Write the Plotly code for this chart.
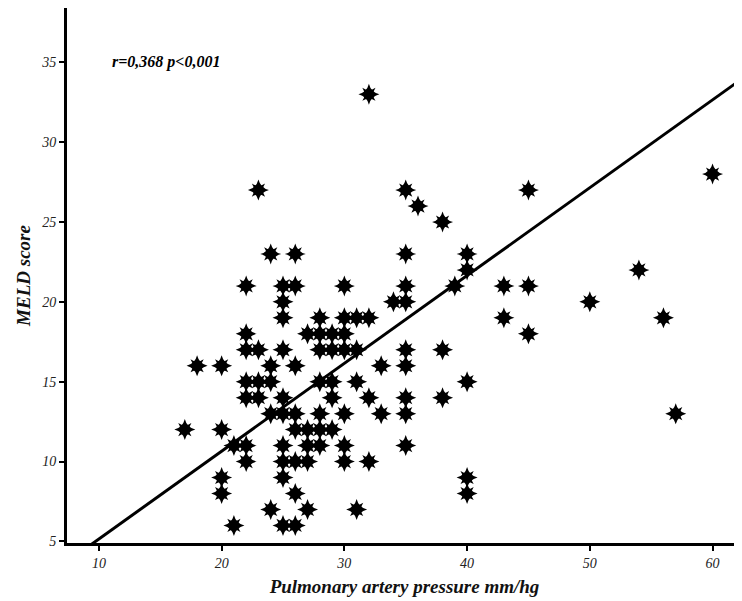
import plotly.graph_objects as go
import numpy as np

# Pulmonary artery pressure (mm/hg) and MELD score, read row by row
pap = [32,
       60,
       23, 35, 45,
       36,
       38,
       24, 26, 35, 40,
       40, 54,
       22, 25, 26, 30, 35, 39, 43, 45,
       25, 34, 35, 50,
       25, 28, 30, 31, 32, 43, 56,
       22, 27, 28, 29, 30, 45,
       22, 23, 25, 28, 29, 30, 31, 35, 38,
       18, 20, 24, 26, 33, 35,
       22, 23, 24, 28, 29, 31, 40,
       22, 23, 25, 29, 32, 35, 38,
       24, 25, 26, 28, 30, 33, 35, 57,
       17, 20, 26, 27, 28, 29,
       21, 22, 25, 27, 28, 30, 35,
       22, 25, 26, 27, 30, 32,
       20, 25, 40,
       20, 26, 40,
       24, 27, 31,
       21, 25, 26]
meld = [33,
        28,
        27, 27, 27,
        26,
        25,
        23, 23, 23, 23,
        22, 22,
        21, 21, 21, 21, 21, 21, 21, 21,
        20, 20, 20, 20,
        19, 19, 19, 19, 19, 19, 19,
        18, 18, 18, 18, 18, 18,
        17, 17, 17, 17, 17, 17, 17, 17, 17,
        16, 16, 16, 16, 16, 16,
        15, 15, 15, 15, 15, 15, 15,
        14, 14, 14, 14, 14, 14, 14,
        13, 13, 13, 13, 13, 13, 13, 13,
        12, 12, 12, 12, 12, 12,
        11, 11, 11, 11, 11, 11, 11,
        10, 10, 10, 10, 10, 10,
        9, 9, 9,
        8, 8, 8,
        7, 7, 7,
        6, 6, 6]

# Fitted line as drawn in the figure
fit_slope = 0.55
fit_intercept = -0.35

x_ticks = [10, 20, 30, 40, 50, 60]
y_ticks = [5, 10, 15, 20, 25, 30, 35]
x_range = [7.4, 62.4]
y_range = [4.9, 38.4]

serif = "Liberation Serif, Times New Roman, serif"

fig = go.Figure()

lx = np.array(x_range)
ly = fit_slope * lx + fit_intercept
fig.add_trace(go.Scatter(x=lx, y=ly, mode="lines",
                         line=dict(color="black", width=3),
                         hoverinfo="skip", showlegend=False))

for sym, sz in [("star-diamond", 15), ("star-square", 12), ("circle", 6)]:
    fig.add_trace(go.Scatter(x=pap, y=meld, mode="markers",
                             marker=dict(symbol=sym, size=sz, color="black",
                                         line=dict(width=0)),
                             showlegend=False))

fig.add_annotation(x=0.064, y=35, xref="paper", yref="y",
                   text="r=0,368 p<0,001", showarrow=False,
                   xanchor="left", yanchor="middle",
                   font=dict(family=serif, size=16, color="black",
                             weight="bold", style="italic"))

fig.update_layout(
    width=734, height=593,
    margin=dict(l=59, r=0, t=0, b=58, autoexpand=False),
    paper_bgcolor="white", plot_bgcolor="white",
    xaxis=dict(range=x_range, tickvals=x_ticks, ticks="outside", ticklen=5,
               tickwidth=1.5, tickcolor="black",
               showline=True, linecolor="black", linewidth=3,
               showgrid=False, zeroline=False, automargin=False,
               tickfont=dict(family=serif, size=14, color="#222", style="italic"),
               title=dict(text="Pulmonary artery pressure mm/hg", standoff=10,
                          font=dict(family=serif, size=19, color="#111",
                                    weight="bold", style="italic"))),
    yaxis=dict(range=y_range, tickvals=y_ticks, ticks="outside", ticklen=5,
               tickwidth=1.5, tickcolor="black",
               showline=True, linecolor="black", linewidth=3,
               showgrid=False, zeroline=False, automargin=False,
               tickfont=dict(family=serif, size=14, color="#222", style="italic"),
               title=dict(text="MELD score", standoff=6,
                          font=dict(family=serif, size=19, color="#111",
                                    weight="bold", style="italic"))),
)

fig.write_html("out.html")
